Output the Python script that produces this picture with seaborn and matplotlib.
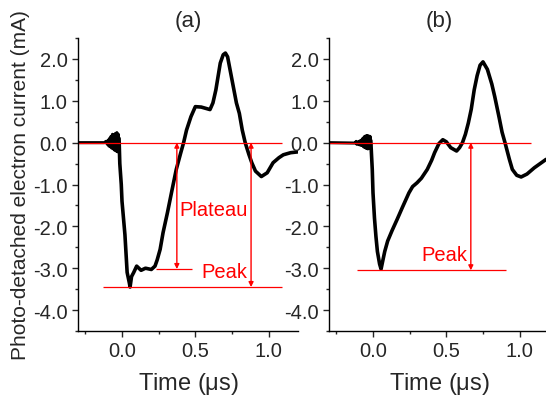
import numpy as np
import pandas as pd
import seaborn as sns
import matplotlib.pyplot as plt

## Data, time in us, current in mA

# baseline noise just before the laser pulse
noise_a_t = [-0.30, -0.12, -0.11, -0.10, -0.095, -0.09, -0.085, -0.08, -0.075, -0.07, -0.065,
             -0.06, -0.055, -0.05, -0.045, -0.04, -0.035, -0.03, -0.025, -0.02]
noise_a_v = [0.0, 0.0, 0.03, -0.04, 0.06, -0.08, 0.10, -0.10, 0.15, -0.13, 0.20,
             -0.15, 0.18, -0.18, 0.22, -0.20, 0.24, -0.22, 0.20, -0.10]

trace_a_t = [-0.02, -0.015, -0.005, 0.0, 0.02, 0.035, 0.05, 0.055, 0.065, 0.08, 0.10,
             0.13, 0.16, 0.20, 0.225, 0.24, 0.26, 0.28, 0.31, 0.34, 0.37, 0.40,
             0.42, 0.44, 0.47, 0.50, 0.54, 0.57, 0.60, 0.62, 0.64, 0.67, 0.69,
             0.705, 0.72, 0.75, 0.78, 0.80, 0.82, 0.84, 0.865, 0.885, 0.91, 0.95,
             0.99, 1.03, 1.07, 1.10, 1.15, 1.20]
trace_a_v = [0.10, -0.50, -1.00, -1.40, -2.20, -3.10, -3.35, -3.45, -3.20, -3.10, -2.95,
             -3.05, -3.00, -3.03, -2.95, -2.80, -2.55, -2.15, -1.67, -1.15, -0.64, -0.25,
             0.00, 0.30, 0.62, 0.86, 0.85, 0.82, 0.79, 0.95, 1.26, 1.90, 2.10,
             2.14, 2.05, 1.50, 0.95, 0.70, 0.30, 0.00, -0.28, -0.48, -0.68, -0.81,
             -0.72, -0.48, -0.36, -0.29, -0.24, -0.22]

noise_b_t = [-0.30, -0.12, -0.115, -0.11, -0.10, -0.095, -0.09, -0.085, -0.08, -0.075,
             -0.07, -0.065, -0.06, -0.055, -0.05, -0.045, -0.04, -0.035, -0.03, -0.025,
             -0.02, -0.015]
noise_b_v = [0.0, -0.01, 0.03, -0.04, 0.02, -0.05, 0.04, -0.06, 0.06, -0.07,
             0.10, -0.10, 0.14, -0.12, 0.16, -0.14, 0.17, -0.15, 0.16, -0.14,
             0.15, -0.05]

trace_b_t = [-0.015, -0.01, -0.005, 0.0, 0.01, 0.02, 0.03, 0.045, 0.055, 0.065, 0.08,
             0.10, 0.13, 0.165, 0.20, 0.245, 0.27, 0.30, 0.33, 0.37, 0.40, 0.42,
             0.45, 0.476, 0.50, 0.53, 0.57, 0.59, 0.61, 0.63, 0.65, 0.67, 0.69,
             0.71, 0.73, 0.75, 0.78, 0.81, 0.83, 0.86, 0.88, 0.90, 0.93, 0.95,
             0.98, 1.01, 1.05, 1.10, 1.14, 1.18]
trace_b_v = [0.05, -0.30, -0.64, -1.20, -1.80, -2.24, -2.60, -2.90, -3.02, -2.85, -2.60,
             -2.35, -2.10, -1.83, -1.55, -1.20, -1.05, -0.96, -0.85, -0.64, -0.42, -0.24,
             -0.02, 0.07, 0.02, -0.12, -0.20, -0.12, 0.00, 0.20, 0.47, 0.80, 1.26,
             1.60, 1.85, 1.93, 1.75, 1.40, 1.10, 0.60, 0.25, 0.00, -0.40, -0.64,
             -0.78, -0.82, -0.75, -0.60, -0.50, -0.40]

# annotation levels / positions
a_zero_span = [-0.30, 1.09]
a_plateau = -3.02
a_plateau_span = [0.23, 0.476]
a_plateau_x = 0.374
a_peak = -3.45
a_peak_span = [-0.13, 1.09]
a_peak_x = 0.88

b_zero_span = [-0.30, 1.08]
b_peak = -3.05
b_peak_span = [-0.11, 0.91]
b_peak_x = 0.667

sns.set_style("ticks")
plt.rcParams['font.family'] = ['Liberation Sans', 'DejaVu Sans']
plt.rcParams['mathtext.fontset'] = 'custom'
plt.rcParams['mathtext.rm'] = 'Liberation Sans'

fig = plt.figure(figsize=(5.46, 4.02), dpi=100)
ax_a = fig.add_axes([78/546, 70/402, 220/546, 293/402])
ax_b = fig.add_axes([329/546, 70/402, 220/546, 293/402])

red = '#ff0000'
arrow = dict(arrowstyle='<|-|>', color=red, lw=1, shrinkA=0, shrinkB=0,
             mutation_scale=7)


def draw_trace(ax, nt, nv, t, v):
    df_n = pd.DataFrame({'t': nt, 'v': nv})
    df_t = pd.DataFrame({'t': t, 'v': v})
    sns.lineplot(data=df_n, x='t', y='v', ax=ax, color='black', lw=2.2, sort=False)
    sns.lineplot(data=df_t, x='t', y='v', ax=ax, color='black', lw=2.6, sort=False)


def style_axis(ax, title):
    ax.set_xlim(-0.3, 1.2)
    ax.set_ylim(-4.5, 2.5)
    ax.set_xticks([0.0, 0.5, 1.0])
    ax.set_xticklabels(['0.0', '0.5', '1.0'])
    ax.set_xticks([-0.25, 0.25, 0.75], minor=True)
    ax.set_yticks([-4, -3, -2, -1, 0, 1, 2])
    ax.set_yticklabels(['-4.0', '-3.0', '-2.0', '-1.0', '0.0', '1.0', '2.0'])
    ax.set_yticks([-4.5, -3.5, -2.5, -1.5, -0.5, 0.5, 1.5, 2.5], minor=True)
    ax.tick_params(which='major', direction='out', length=4, width=1, labelsize=14.5)
    ax.tick_params(which='minor', direction='out', length=2.5, width=1)
    for s in ['top', 'right']:
        ax.spines[s].set_visible(False)
    for s in ['left', 'bottom']:
        ax.spines[s].set_linewidth(1)
        ax.spines[s].set_color('black')
    ax.set_xlabel(r'Time ($\mathrm{\mu}$s)', fontsize=17, labelpad=7)
    ax.set_title(title, fontsize=16, pad=9)


# panel (a)
draw_trace(ax_a, noise_a_t, noise_a_v, trace_a_t, trace_a_v)
ax_a.hlines(0, *a_zero_span, color=red, lw=0.9)
ax_a.hlines(a_plateau, *a_plateau_span, color=red, lw=0.9)
ax_a.hlines(a_peak, *a_peak_span, color=red, lw=0.9)
ax_a.annotate('', xy=(a_plateau_x, 0), xytext=(a_plateau_x, a_plateau), arrowprops=arrow)
ax_a.annotate('', xy=(a_peak_x, 0), xytext=(a_peak_x, a_peak), arrowprops=arrow)
ax_a.text(0.39, -1.6, 'Plateau', color=red, fontsize=14.5, va='center', ha='left')
ax_a.text(0.54, -3.07, 'Peak', color=red, fontsize=14.5, va='center', ha='left')
style_axis(ax_a, '(a)')
ax_a.set_ylabel('Photo-detached electron current (mA)', fontsize=15, labelpad=2)

# panel (b)
draw_trace(ax_b, noise_b_t, noise_b_v, trace_b_t, trace_b_v)
ax_b.hlines(0, *b_zero_span, color=red, lw=0.9)
ax_b.hlines(b_peak, *b_peak_span, color=red, lw=0.9)
ax_b.annotate('', xy=(b_peak_x, 0), xytext=(b_peak_x, b_peak), arrowprops=arrow)
ax_b.text(0.33, -2.67, 'Peak', color=red, fontsize=14.5, va='center', ha='left')
style_axis(ax_b, '(b)')
ax_b.set_ylabel('')

fig.savefig('out.png', dpi=100)
